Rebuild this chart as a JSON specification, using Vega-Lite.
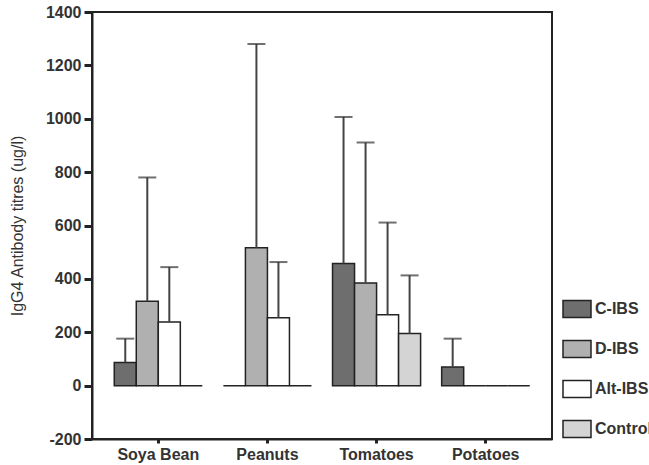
{
  "$schema": "https://vega.github.io/schema/vega-lite/v6.json",
  "autosize": {"type": "none"},
  "width": 460,
  "height": 427,
  "padding": {"left": 92, "top": 12, "right": 97, "bottom": 26},
  "background": "white",
  "config": {
    "font": "Liberation Sans",
    "view": {"stroke": "#222", "strokeWidth": 2},
    "axis": {"domainColor": "#222", "domainWidth": 2, "tickColor": "#222", "grid": false, "labelColor": "#333", "titleColor": "#333"}
  },
  "data": {
    "values": [
      {"food": "Soya Bean", "group": "C-IBS", "value": 87, "upper": 176},
      {"food": "Soya Bean", "group": "D-IBS", "value": 316, "upper": 780},
      {"food": "Soya Bean", "group": "Alt-IBS", "value": 238, "upper": 444},
      {"food": "Soya Bean", "group": "Control", "value": 0, "upper": null},
      {"food": "Peanuts", "group": "C-IBS", "value": 0, "upper": null},
      {"food": "Peanuts", "group": "D-IBS", "value": 517, "upper": 1280},
      {"food": "Peanuts", "group": "Alt-IBS", "value": 254, "upper": 463},
      {"food": "Peanuts", "group": "Control", "value": 0, "upper": null},
      {"food": "Tomatoes", "group": "C-IBS", "value": 458, "upper": 1007},
      {"food": "Tomatoes", "group": "D-IBS", "value": 385, "upper": 911},
      {"food": "Tomatoes", "group": "Alt-IBS", "value": 266, "upper": 611},
      {"food": "Tomatoes", "group": "Control", "value": 195, "upper": 413},
      {"food": "Potatoes", "group": "C-IBS", "value": 70, "upper": 176},
      {"food": "Potatoes", "group": "D-IBS", "value": 0, "upper": null},
      {"food": "Potatoes", "group": "Alt-IBS", "value": 0, "upper": null},
      {"food": "Potatoes", "group": "Control", "value": 0, "upper": null}
    ]
  },
  "encoding": {
    "x": {
      "field": "food", "type": "nominal",
      "sort": ["Soya Bean", "Peanuts", "Tomatoes", "Potatoes"],
      "scale": {"paddingInner": 0.193, "paddingOuter": 0.204},
      "axis": {"title": null, "labelAngle": 0, "labelFontSize": 16, "labelFontWeight": "bold", "tickSize": 4, "tickWidth": 3, "labelPadding": 3}
    },
    "xOffset": {
      "field": "group", "type": "nominal",
      "sort": ["C-IBS", "D-IBS", "Alt-IBS", "Control"],
      "scale": {"paddingInner": 0, "paddingOuter": 0}
    }
  },
  "layer": [
    {
      "mark": {"type": "bar", "stroke": "#222", "strokeWidth": 1.5, "opacity": 1},
      "encoding": {
        "y": {
          "field": "value", "type": "quantitative",
          "scale": {"domain": [-200, 1400], "nice": false, "zero": false},
          "axis": {
            "title": "IgG4 Antibody titres (ug/l)",
            "titleFontSize": 16, "titleFontWeight": "normal", "titlePadding": 20,
            "values": [-200,-150,-100,-50,0,50,100,150,200,250,300,350,400,450,500,550,600,650,700,750,800,850,900,950,1000,1050,1100,1150,1200,1250,1300,1350,1400],
            "labelExpr": "datum.value % 200 === 0 ? datum.value + '' : ''",
            "labelFontSize": 16, "labelFontWeight": "bold",
            "tickSize": {"condition": {"test": "datum.value % 200 === 0", "value": 8}, "value": 4},
            "tickWidth": {"condition": {"test": "datum.value % 200 === 0", "value": 3}, "value": 1.5},
            "labelPadding": 3
          }
        },
        "fill": {
          "field": "group", "type": "nominal",
          "sort": ["C-IBS", "D-IBS", "Alt-IBS", "Control"],
          "scale": {"domain": ["C-IBS", "D-IBS", "Alt-IBS", "Control"], "range": ["#6e6e6e", "#b0b0b0", "#ffffff", "#d4d4d4"]},
          "legend": {
            "title": null, "orient": "none", "legendX": 470, "legendY": 282,
            "symbolType": "M -1 -0.6 L 1 -0.6 L 1 0.6 L -1 0.6 Z",
            "symbolSize": 784, "symbolStrokeColor": "#222", "symbolStrokeWidth": 1.5, "symbolOpacity": 1,
            "labelFontSize": 16, "labelFontWeight": "bold", "labelColor": "#333", "labelOffset": 3,
            "rowPadding": 13, "padding": 0, "labelLimit": 200
          }
        }
      }
    },
    {
      "transform": [{"filter": "datum.upper != null"}],
      "mark": {"type": "rule", "color": "#444", "strokeWidth": 2},
      "encoding": {
        "y": {"field": "value", "type": "quantitative"},
        "y2": {"field": "upper"}
      }
    },
    {
      "transform": [{"filter": "datum.upper != null"}],
      "mark": {"type": "tick", "color": "#333", "thickness": 2, "size": 18, "orient": "horizontal"},
      "encoding": {
        "y": {"field": "upper", "type": "quantitative"}
      }
    }
  ]
}
